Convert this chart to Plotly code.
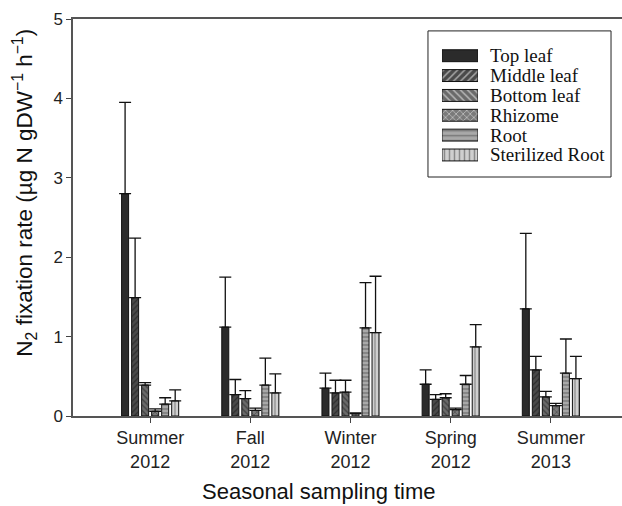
import plotly.graph_objects as go

# Sampling seasons (x categories)
seasons = ["Summer<br>2012", "Fall<br>2012", "Winter<br>2012", "Spring<br>2012", "Summer<br>2013"]

# Plant tissue series
tissues = ["Top leaf", "Middle leaf", "Bottom leaf", "Rhizome", "Root", "Sterilized Root"]

# Mean N2 fixation rate per tissue (µg N gDW-1 h-1), one value per season
top_leaf = [2.80, 1.12, 0.35, 0.40, 1.35]
middle_leaf = [1.49, 0.27, 0.29, 0.21, 0.58]
bottom_leaf = [0.39, 0.22, 0.30, 0.23, 0.24]
rhizome = [0.06, 0.07, 0.03, 0.08, 0.13]
root = [0.15, 0.39, 1.11, 0.40, 0.54]
sterilized_root = [0.19, 0.29, 1.05, 0.87, 0.47]

# Upper end of the error bar (mean + SD)
top_leaf_hi = [3.95, 1.75, 0.54, 0.58, 2.30]
middle_leaf_hi = [2.24, 0.46, 0.45, 0.27, 0.75]
bottom_leaf_hi = [0.42, 0.32, 0.45, 0.28, 0.31]
rhizome_hi = [0.09, 0.10, 0.04, 0.10, 0.16]
root_hi = [0.23, 0.73, 1.68, 0.51, 0.97]
sterilized_root_hi = [0.33, 0.53, 1.76, 1.15, 0.75]

means = [top_leaf, middle_leaf, bottom_leaf, rhizome, root, sterilized_root]
uppers = [top_leaf_hi, middle_leaf_hi, bottom_leaf_hi, rhizome_hi, root_hi, sterilized_root_hi]

# Fill style per tissue
fill_colors = ["#2b2b2b", "#4a4a4a", "#6a6a6a", "#7a7a7a", "#a9a9a9", "#cfcfcf"]
hatch_shapes = ["", "/", "\\", "x", "-", "|"]
hatch_colors = ["#000000", "#111111", "#111111", "#1a1a1a", "#333333", "#444444"]

fig = go.Figure()
for name, vals, hi, bg, shape, fg in zip(tissues, means, uppers, fill_colors, hatch_shapes, hatch_colors):
    fig.add_trace(go.Bar(
        name=name,
        x=seasons,
        y=vals,
        showlegend=False,
        marker=dict(
            color=bg,
            line=dict(color="#111111", width=1),
            pattern=dict(shape=shape, fgcolor=fg, bgcolor=bg, size=4, solidity=0.3),
        ),
        error_y=dict(
            type="data",
            symmetric=False,
            array=[h - v for h, v in zip(hi, vals)],
            arrayminus=[0] * len(vals),
            color="#111111",
            thickness=1.3,
            width=6,
        ),
    ))

# Legend keys: wide hatched swatches in a small inset axis
fig.add_trace(go.Bar(
    x=[1] * len(tissues),
    y=tissues,
    orientation="h",
    width=0.6,
    xaxis="x2",
    yaxis="y2",
    showlegend=False,
    hoverinfo="skip",
    marker=dict(
        color=fill_colors,
        line=dict(color="#111111", width=1),
        pattern=dict(shape=hatch_shapes, fgcolor=hatch_colors, bgcolor=fill_colors,
                     size=5, solidity=0.3),
    ),
))

sans = "Liberation Sans, Arial, sans-serif"
serif = "Liberation Serif, Times New Roman, serif"

# Legend labels beside each swatch
legend_labels = [
    dict(
        text=name, xref="paper", yref="y2", x=0.756, y=name,
        xanchor="left", yanchor="middle", showarrow=False,
        font=dict(family=serif, size=19, color="#111111"),
    )
    for name in tissues
]

fig.update_layout(
    width=622,
    height=506,
    margin=dict(l=73, r=0, t=19, b=90),
    paper_bgcolor="white",
    plot_bgcolor="white",
    barmode="group",
    bargap=0.4,
    bargroupgap=0.3,
    showlegend=False,
    xaxis=dict(
        range=[-0.77, 4.71],
        showline=True, linecolor="#555555", linewidth=1.5,
        mirror=True,
        ticks="outside", ticklen=5, tickcolor="#444444", tickwidth=1.2,
        tickfont=dict(family=sans, size=18, color="#222222"),
        showgrid=False, zeroline=False,
    ),
    yaxis=dict(
        range=[0, 5],
        tickvals=[0, 1, 2, 3, 4, 5],
        showline=True, linecolor="#555555", linewidth=1.5,
        ticks="outside", ticklen=5, tickcolor="#444444", tickwidth=1.2,
        tickfont=dict(family=sans, size=17, color="#222222"),
        showgrid=False, zeroline=False,
    ),
    xaxis2=dict(
        domain=[0.6721, 0.7377], anchor="y2", range=[0, 1],
        visible=False, fixedrange=True,
    ),
    yaxis2=dict(
        domain=[0.626, 0.939], anchor="x2",
        autorange="reversed",
        showline=False, showgrid=False, zeroline=False, ticks="",
        showticklabels=False,
        fixedrange=True,
    ),
    shapes=[
        dict(
            type="rect", xref="paper", yref="paper",
            x0=0.6466, x1=0.980, y0=0.602, y1=0.970,
            line=dict(color="#222222", width=1), fillcolor="white", layer="below",
        ),
    ],
    annotations=legend_labels + [
        dict(
            text="N<sub>2</sub> fixation rate (µg N gDW<sup>−1</sup> h<sup>−1</sup>)",
            xref="paper", yref="paper", x=-0.089, y=0.563,
            xanchor="center", yanchor="middle", textangle=-90, showarrow=False,
            font=dict(family=sans, size=22.5, color="#111111"),
        ),
        dict(
            text="Seasonal sampling time",
            xref="paper", yref="paper", x=0.448, y=-0.19,
            xanchor="center", yanchor="middle", showarrow=False,
            font=dict(family=sans, size=22, color="#111111"),
        ),
    ],
)

fig.write_html("out.html")
